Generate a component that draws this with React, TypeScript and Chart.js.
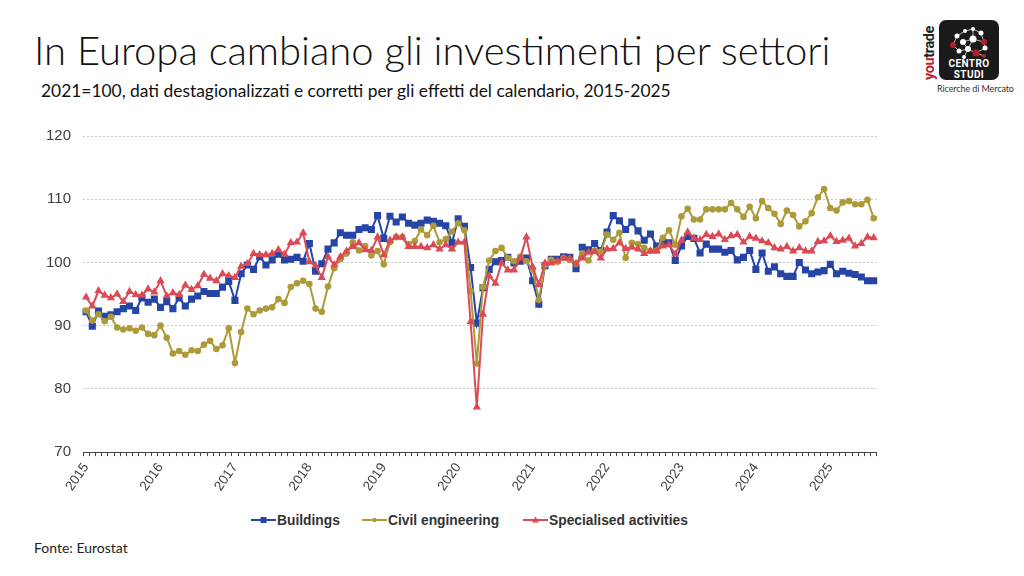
import { useEffect, useRef } from "react";
import { Chart, registerables } from "chart.js";

Chart.register(...registerables);

const years = ["2015", "2016", "2017", "2018", "2019", "2020", "2021", "2022", "2023", "2024", "2025"];
const months = ["01", "02", "03", "04", "05", "06", "07", "08", "09", "10", "11", "12"];
const categories = years.flatMap((y) => months.map((m) => `${y}-${m}`)).slice(0, 128);

const buildings = [
  92.2, 89.9, 92.3, 91.5, 91.7, 92.2, 92.7, 93.1, 92.4, 94.4, 93.7, 94.2,
  92.9, 93.8, 92.7, 94.4, 93.1, 94.2, 94.7, 95.4, 95.1, 95.1, 96.1, 97.0,
  94.0, 98.2, 99.6, 98.9, 100.9, 99.6, 100.4, 101.3, 100.4, 100.5, 100.8, 100.2,
  103.0, 98.6, 99.8, 102.1, 103.1, 104.7, 104.3, 104.3, 105.2, 105.5, 105.2, 107.4,
  103.8, 107.3, 106.4, 107.2, 106.2, 105.9, 106.2, 106.7, 106.5, 106.2, 105.8, 103.1,
  106.9, 105.7, 99.2, 90.4, 96.0, 98.9, 100.1, 100.3, 100.8, 99.9, 100.2, 100.7,
  97.1, 93.4, 99.5, 100.5, 100.5, 100.9, 100.8, 99.0, 102.4, 102.0, 103.0, 101.9,
  104.8, 107.4, 106.6, 105.2, 106.4, 105.0, 103.5, 104.5, 102.6, 103.2, 103.1, 100.3,
  102.6, 104.1, 103.8, 101.5, 102.9, 102.1, 102.1, 101.6, 101.9, 100.4, 100.8, 101.9,
  98.9, 101.5, 98.6, 99.3, 98.2, 97.8, 97.8, 100.0, 98.8, 98.2, 98.5, 98.7,
  99.7, 98.2, 98.6, 98.3, 98.1, 97.7, 97.1, 97.1,
];

const civilEngineering = [
  92.4, 90.8, 91.8, 90.7, 91.4, 89.7, 89.4, 89.6, 89.2, 89.7, 88.7, 88.5,
  90.0, 88.1, 85.6, 86.0, 85.4, 86.1, 86.0, 87.0, 87.6, 86.3, 86.9, 89.6,
  84.1, 89.0, 92.7, 91.8, 92.4, 92.7, 92.9, 94.2, 93.6, 96.1, 96.7, 97.1,
  96.6, 92.7, 92.2, 96.2, 99.1, 100.5, 101.4, 103.2, 101.9, 102.6, 101.1, 101.8,
  99.7, 103.2, 104.0, 104.0, 102.9, 103.4, 105.2, 104.3, 105.8, 103.2, 103.7, 104.9,
  106.2, 105.1, 95.5, 84.0, 96.1, 100.3, 101.8, 102.3, 100.7, 100.2, 100.9, 100.2,
  98.9, 94.1, 99.6, 100.4, 100.1, 100.7, 100.4, 99.8, 101.4, 100.3, 101.9, 101.7,
  104.4, 103.6, 104.7, 100.7, 103.1, 102.9, 102.3, 101.8, 101.9, 103.9, 105.1, 102.8,
  107.3, 108.5, 106.8, 106.8, 108.4, 108.4, 108.4, 108.4, 109.4, 108.4, 107.2, 108.8,
  107.0, 109.7, 108.6, 107.7, 106.1, 108.2, 107.5, 105.7, 106.5, 107.8, 110.3, 111.6,
  108.6, 108.2, 109.5, 109.7, 109.2, 109.2, 109.9, 107.0,
];

const specialisedActivities = [
  94.5, 93.1, 95.5, 94.8, 94.4, 95.0, 93.8, 95.4, 94.9, 94.8, 95.8, 95.3,
  97.1, 94.7, 95.2, 94.9, 96.4, 95.7, 96.3, 98.1, 97.5, 97.1, 98.2, 97.9,
  97.6, 99.4, 99.8, 101.4, 101.2, 101.2, 101.4, 102.0, 101.3, 103.1, 103.2, 104.7,
  100.1, 99.5, 97.6, 100.9, 99.6, 100.9, 101.8, 102.5, 103.1, 102.0, 101.9, 104.0,
  101.2, 103.5, 104.0, 104.0, 102.5, 102.5, 102.5, 102.3, 102.8, 102.1, 102.8, 102.1,
  103.2, 103.2, 90.6, 77.1, 91.8, 97.9, 96.7, 99.9, 98.8, 98.8, 100.7, 104.0,
  99.3, 96.5, 99.9, 99.9, 100.2, 100.7, 100.6, 99.8, 100.7, 101.6, 101.7, 100.7,
  102.1, 102.2, 103.1, 102.2, 102.4, 102.1, 101.4, 101.8, 101.8, 102.6, 102.8, 101.3,
  103.5, 104.8, 103.8, 103.6, 104.4, 104.1, 104.5, 103.6, 104.2, 104.4, 103.2, 104.1,
  103.8, 103.4, 103.1, 102.3, 102.1, 102.5, 101.8, 102.3, 101.8, 101.8, 103.3, 103.4,
  104.2, 103.3, 103.5, 103.8, 102.6, 103.0, 104.0, 103.9,
];

const BLUE = "#2745a6";
const GOLD = "#ad9a38";
const RED = "#dc4a55";
const TEXT = "#404040";

const nodes: [number, number, number, string][] = [
  [18, 16, 2.5, "#fff"], [26, 11, 2, "#fff"], [34, 9, 2, "#fff"], [42, 13, 2.5, "#fff"],
  [14, 25, 3, "#b3202c"], [24, 22, 3, "#fff"], [34, 19, 3.5, "#fff"], [45, 22, 3, "#b3202c"],
  [20, 31, 2.5, "#fff"], [29, 29, 3, "#fff"], [37, 33, 3.5, "#b3202c"], [46, 28, 2.5, "#fff"],
  [25, 37, 2, "#fff"], [45, 36, 2, "#b3202c"],
];

function Logo() {
  return (
    <div style={{ position: "absolute", left: 922, top: 18, width: 90, height: 78 }}>
      <div
        style={{
          position: "absolute",
          left: 1,
          top: 62,
          width: 62,
          transform: "rotate(-90deg)",
          transformOrigin: "0 0",
          font: "bold 14.5px Roboto, sans-serif",
          lineHeight: "14px",
          letterSpacing: -0.4,
          whiteSpace: "nowrap",
          color: "#222",
        }}
      >
        <span style={{ color: "#c3202e" }}>you</span>trade
      </div>
      <div style={{ position: "absolute", left: 17, top: 2, width: 60, height: 60, borderRadius: 7, background: "#1a1a1a" }}>
        <svg width={60} height={42} style={{ position: "absolute", left: 0, top: 0 }}>
          <path
            d="M18 16L26 11L34 9L42 13L45 22L46 28L37 33L29 29L20 31L14 25L18 16M24 22L34 19L45 22M24 22L29 29L34 19M29 29L25 37M34 9L34 19M37 33L45 36"
            stroke="#ddd"
            strokeWidth={0.8}
            fill="none"
          />
          {nodes.map(([cx, cy, r, fill], i) => (
            <circle key={i} cx={cx} cy={cy} r={r} fill={fill} />
          ))}
        </svg>
        <div
          style={{
            position: "absolute",
            left: 0,
            top: 39,
            width: 60,
            textAlign: "center",
            color: "#fff",
            font: "bold 10px/10.5px Roboto, sans-serif",
            letterSpacing: 0.4,
          }}
        >
          CENTRO
          <br />
          STUDI
        </div>
      </div>
      <div
        style={{
          position: "absolute",
          left: 15,
          top: 65,
          width: 68,
          font: "9px Lato, sans-serif",
          letterSpacing: -0.1,
          whiteSpace: "nowrap",
          color: "#333",
        }}
      >
        Ricerche di Mercato
      </div>
    </div>
  );
}

function LegendItem({ label, color, shape, left }: { label: string; color: string; shape: string; left: number }) {
  return (
    <div style={{ position: "absolute", left, top: 0, whiteSpace: "nowrap", font: "bold 13.8px 'Liberation Sans', sans-serif", color: "#333", lineHeight: "16px" }}>
      <svg width={25} height={10} style={{ marginRight: 1 }}>
        <line x1={0} y1={5} x2={25} y2={5} stroke={color} strokeWidth={2} />
        {shape === "rect" && <rect x={9.5} y={2} width={6} height={6} fill={color} />}
        {shape === "circle" && <circle cx={12.5} cy={5} r={2.2} fill={color} />}
        {shape === "triangle" && <path d="M12.5 1.5L16 7.5L9 7.5Z" fill={color} />}
      </svg>
      {label}
    </div>
  );
}

export default function App() {
  const canvasRef = useRef<HTMLCanvasElement | null>(null);

  useEffect(() => {
    if (!canvasRef.current) return;
    document.body.style.margin = "0";

    const chart = new Chart(canvasRef.current, {
      type: "line",
      data: {
        labels: categories,
        datasets: [
          {
            label: "Buildings",
            data: buildings,
            borderColor: BLUE,
            backgroundColor: BLUE,
            borderWidth: 2,
            pointStyle: "rect",
            pointRadius: 3.6,
            order: 3,
          },
          {
            label: "Civil engineering",
            data: civilEngineering,
            borderColor: GOLD,
            backgroundColor: GOLD,
            borderWidth: 2,
            pointStyle: "circle",
            pointRadius: 2.3,
            order: 2,
          },
          {
            label: "Specialised activities",
            data: specialisedActivities,
            borderColor: RED,
            backgroundColor: RED,
            borderWidth: 2,
            pointStyle: "triangle",
            pointRadius: 2.8,
            order: 1,
          },
        ],
      },
      options: {
        responsive: false,
        animation: false,
        layout: { padding: { top: 5, left: 0, right: 0, bottom: 0 } },
        plugins: {
          legend: { display: false },
          tooltip: { enabled: false },
        },
        scales: {
          x: {
            offset: true,
            grid: { drawOnChartArea: false, drawTicks: true, tickLength: 4, tickColor: "#444", offset: true },
            border: { color: "#444", width: 1 },
            ticks: {
              autoSkip: false,
              minRotation: 55,
              maxRotation: 55,
              color: TEXT,
              padding: 4,
              font: { family: "'Liberation Sans', sans-serif", size: 13.5 },
              callback: (_v, i) => (categories[i].endsWith("-01") ? categories[i].slice(0, 4) : ""),
            },
          },
          y: {
            min: 70,
            max: 120,
            afterFit: (scale) => {
              scale.width = 43;
            },
            grid: { color: "#c8c8c8", lineWidth: 1, drawTicks: false },
            border: { display: false, dash: [2, 2] },
            ticks: {
              stepSize: 10,
              color: TEXT,
              padding: 12,
              font: { family: "'Liberation Sans', sans-serif", size: 15 },
            },
          },
        },
      },
    });

    return () => chart.destroy();
  }, []);

  return (
    <div style={{ position: "absolute", left: 0, top: 0, width: 1024, height: 576, background: "#fff", overflow: "hidden" }}>
      <div style={{ position: "absolute", left: 34, top: 26, font: "300 40px Lato, sans-serif", color: "#111", whiteSpace: "nowrap" }}>
        In Europa cambiano gli investimenti per settori
      </div>
      <div style={{ position: "absolute", left: 41, top: 80, font: "17.4px Lato, sans-serif", color: "#111", whiteSpace: "nowrap" }}>
        2021=100, dati destagionalizzati e corretti per gli effetti del calendario, 2015-2025
      </div>
      <Logo />
      <canvas ref={canvasRef} width={851} height={383} style={{ position: "absolute", left: 40, top: 115 }} />
      <div style={{ position: "absolute", left: 0, top: 513, width: 1024, height: 16 }}>
        <LegendItem label="Buildings" color={BLUE} shape="rect" left={251} />
        <LegendItem label="Civil engineering" color={GOLD} shape="circle" left={362} />
        <LegendItem label="Specialised activities" color={RED} shape="triangle" left={523} />
      </div>
      <div style={{ position: "absolute", left: 34, top: 539, font: "14px Lato, sans-serif", color: "#222", whiteSpace: "nowrap" }}>Fonte: Eurostat</div>
    </div>
  );
}
